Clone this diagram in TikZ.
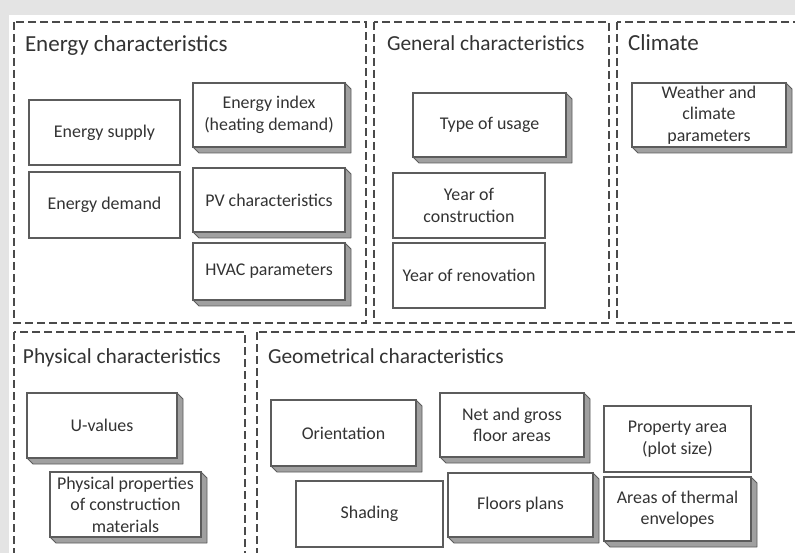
\documentclass[tikz,border=0pt]{standalone}
\usepackage{fontspec}
\setmainfont{Carlito}
\definecolor{bggray}{HTML}{E4E4E4}
\definecolor{txt}{HTML}{333333}
\definecolor{edge}{HTML}{5C5C5C}
\definecolor{shd}{HTML}{A0A0A0}
\definecolor{dashc}{HTML}{4A4A4A}
\tikzset{
 panel/.style={draw=dashc, line width=1.3pt, dash pattern=on 8pt off 4pt},
 ptitle/.style={anchor=base west, inner sep=0pt, outer sep=0pt, text=txt, font=\fontsize{21.4}{26}\selectfont},
 bigtitle/.style={ptitle, font=\fontsize{23}{27}\selectfont},
 box/.style={draw=edge, fill=white, line width=1.1pt, inner sep=0pt, outer sep=0pt, text=txt, align=center, font=\fontsize{17.9}{21.5}\selectfont},
 shadowface/.style={fill=shd, draw=edge, line width=0.9pt, line join=round},
}
\newcommand{\plainbox}[6]{\node[box, minimum width={#4-#2}, minimum height={#5-#3}] (#1) at ({(#2+#4)/2},{(#3+#5)/2}) {#6};}
\newcommand{\depthbox}[6]{\filldraw[shadowface] (#4,#3) -- ({#4+6},{#3+6}) -- ({#4+6},{#5+6}) -- ({#2+6},{#5+6}) -- (#2,#5) -- (#4,#5) -- cycle;
 \plainbox{#1}{#2}{#3}{#4}{#5}{#6}}
\begin{document}
\begin{tikzpicture}[x=1pt,y=-1pt]
\useasboundingbox (0,0) rectangle (795,553);
\fill[bggray] (0,0) rectangle (795,553);
\fill[white] (9,15) rectangle (795,553);
\clip (0,0) rectangle (795,553);
% panels
\draw[panel] (14,22) rectangle (366,323);
\draw[panel] (374,22) rectangle (609,323);
\draw[panel] (617,22) rectangle (810,323);
\draw[panel] (14,332) rectangle (245,570);
\draw[panel] (257,332) rectangle (810,570);
% titles
\node[bigtitle] (tEnergy) at (25,52) {Energy characteristics};
\node[ptitle] (tGeneral) at (387,51) {General characteristics};
\node[bigtitle] (tClimate) at (628,51) {Climate};
\node[ptitle] (tPhys) at (23,363) {Physical characteristics};
\node[ptitle] (tGeom) at (268,363) {Geometrical characteristics};
% energy
\plainbox{esupply}{29}{100}{180}{165}{Energy supply}
\plainbox{edemand}{29}{172}{180}{238}{Energy demand}
\depthbox{eindex}{193}{83}{345}{147}{Energy index\\(heating demand)}
\depthbox{pv}{193}{168}{345}{232}{PV characteristics}
\depthbox{hvac}{193}{243}{345}{300}{HVAC parameters}
% general
\depthbox{usage}{413}{93}{566}{157}{Type of usage}
\plainbox{yconst}{393}{173}{545}{238}{Year of\\construction}
\plainbox{yrenov}{393}{243}{545}{308}{Year of renovation}
% climate
\depthbox{weather}{632}{83}{786}{147}{Weather and\\climate\\parameters}
% physical
\depthbox{uval}{27}{393}{177}{458}{U-values}
\depthbox{physprop}{50}{472}{201}{537}{Physical properties\\of construction\\materials}
% geometrical
\depthbox{orient}{271}{400}{416}{466}{Orientation}
\depthbox{netgross}{440}{393}{584}{457}{Net and gross\\floor areas}
\plainbox{property}{604}{406}{751}{472}{Property area\\(plot size)}
\plainbox{shading}{296}{481}{443}{547}{Shading}
\depthbox{floors}{448}{473}{593}{537}{Floors plans}
\depthbox{thermal}{604}{477}{751}{541}{Areas of thermal\\envelopes}
\end{tikzpicture}
\end{document}
